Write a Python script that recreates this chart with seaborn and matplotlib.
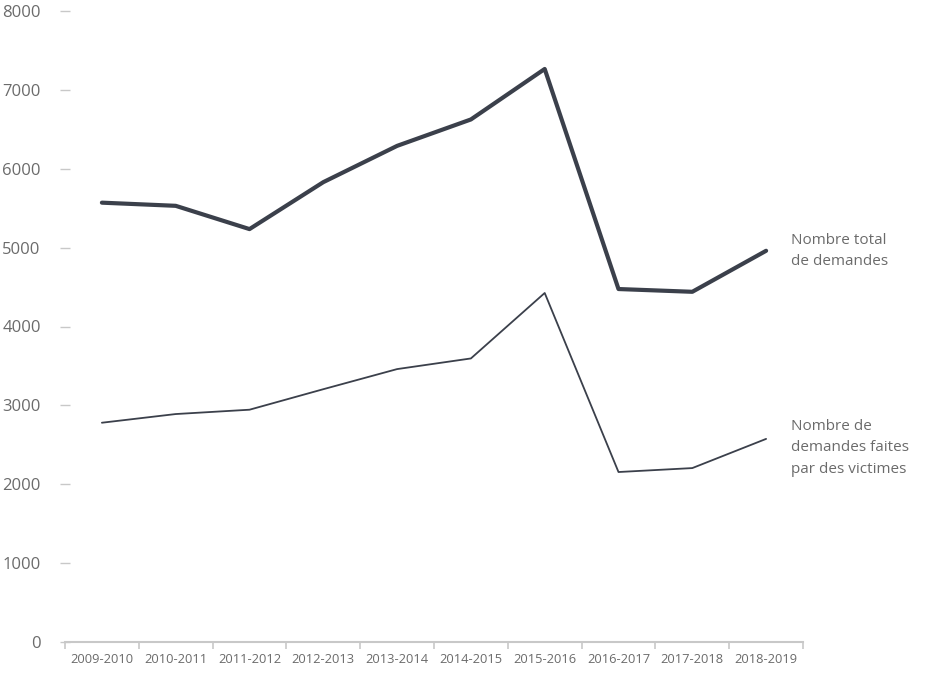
import numpy as np
import pandas as pd
import matplotlib
matplotlib.use("Agg")
import matplotlib.pyplot as plt
import seaborn as sns

years = ["2009-2010", "2010-2011", "2011-2012", "2012-2013", "2013-2014",
         "2014-2015", "2015-2016", "2016-2017", "2017-2018", "2018-2019"]
total = [5570, 5530, 5235, 5830, 6290, 6625, 7265, 4475, 4440, 4960]
victims = [2780, 2890, 2945, 3205, 3460, 3595, 4425, 2155, 2205, 2575]
yticks = [0, 1000, 2000, 3000, 4000, 5000, 6000, 7000, 8000]

sns.set_style("white")
plt.rcParams['font.family'] = ['Open Sans', 'DejaVu Sans']

df = pd.DataFrame({"annee": years, "total": total, "victimes": victims})
line_col = "#3b404b"
text_col = "#6b6b6b"
grid_col = "#c8c8c8"

fig = plt.figure(figsize=(9.43, 6.77), dpi=100)
ax = fig.add_axes([65 / 943, 35 / 677, 738 / 943, 631 / 677])

sns.lineplot(data=df, x="annee", y="total", color=line_col, linewidth=3, ax=ax, sort=False)
sns.lineplot(data=df, x="annee", y="victimes", color=line_col, linewidth=1.3, ax=ax, sort=False)

ax.set_xlim(-0.5, len(years) - 0.5)
ax.set_ylim(0, 8000)
ax.set_xlabel("")
ax.set_ylabel("")

for s in ["top", "right", "left"]:
    ax.spines[s].set_visible(False)
ax.spines["bottom"].set_color(grid_col)
ax.spines["bottom"].set_linewidth(1.5)

ax.set_xticks(range(len(years)))
ax.set_xticklabels(years, fontsize=9.3, color=text_col)
ax.set_xticks(np.arange(-0.5, len(years)), minor=True)
ax.tick_params(axis="x", which="major", bottom=True, length=0, pad=8)
ax.tick_params(axis="x", which="minor", bottom=True, length=5, width=1.2,
               color=grid_col, direction="out")

ax.set_yticks(yticks)
ax.set_yticklabels([str(v) for v in yticks], fontsize=12, color=text_col)
ax.tick_params(axis="y", left=True, length=7, width=1, color=grid_col,
               direction="inout", pad=14)

ax.text(9.34, 4960, "Nombre total\nde demandes", fontsize=11, color=text_col,
        va="center", ha="left", linespacing=1.55, clip_on=False)
ax.text(9.34, 2460, "Nombre de\ndemandes faites\npar des victimes", fontsize=11,
        color=text_col, va="center", ha="left", linespacing=1.55, clip_on=False)

fig.savefig("out.png", dpi=100)
